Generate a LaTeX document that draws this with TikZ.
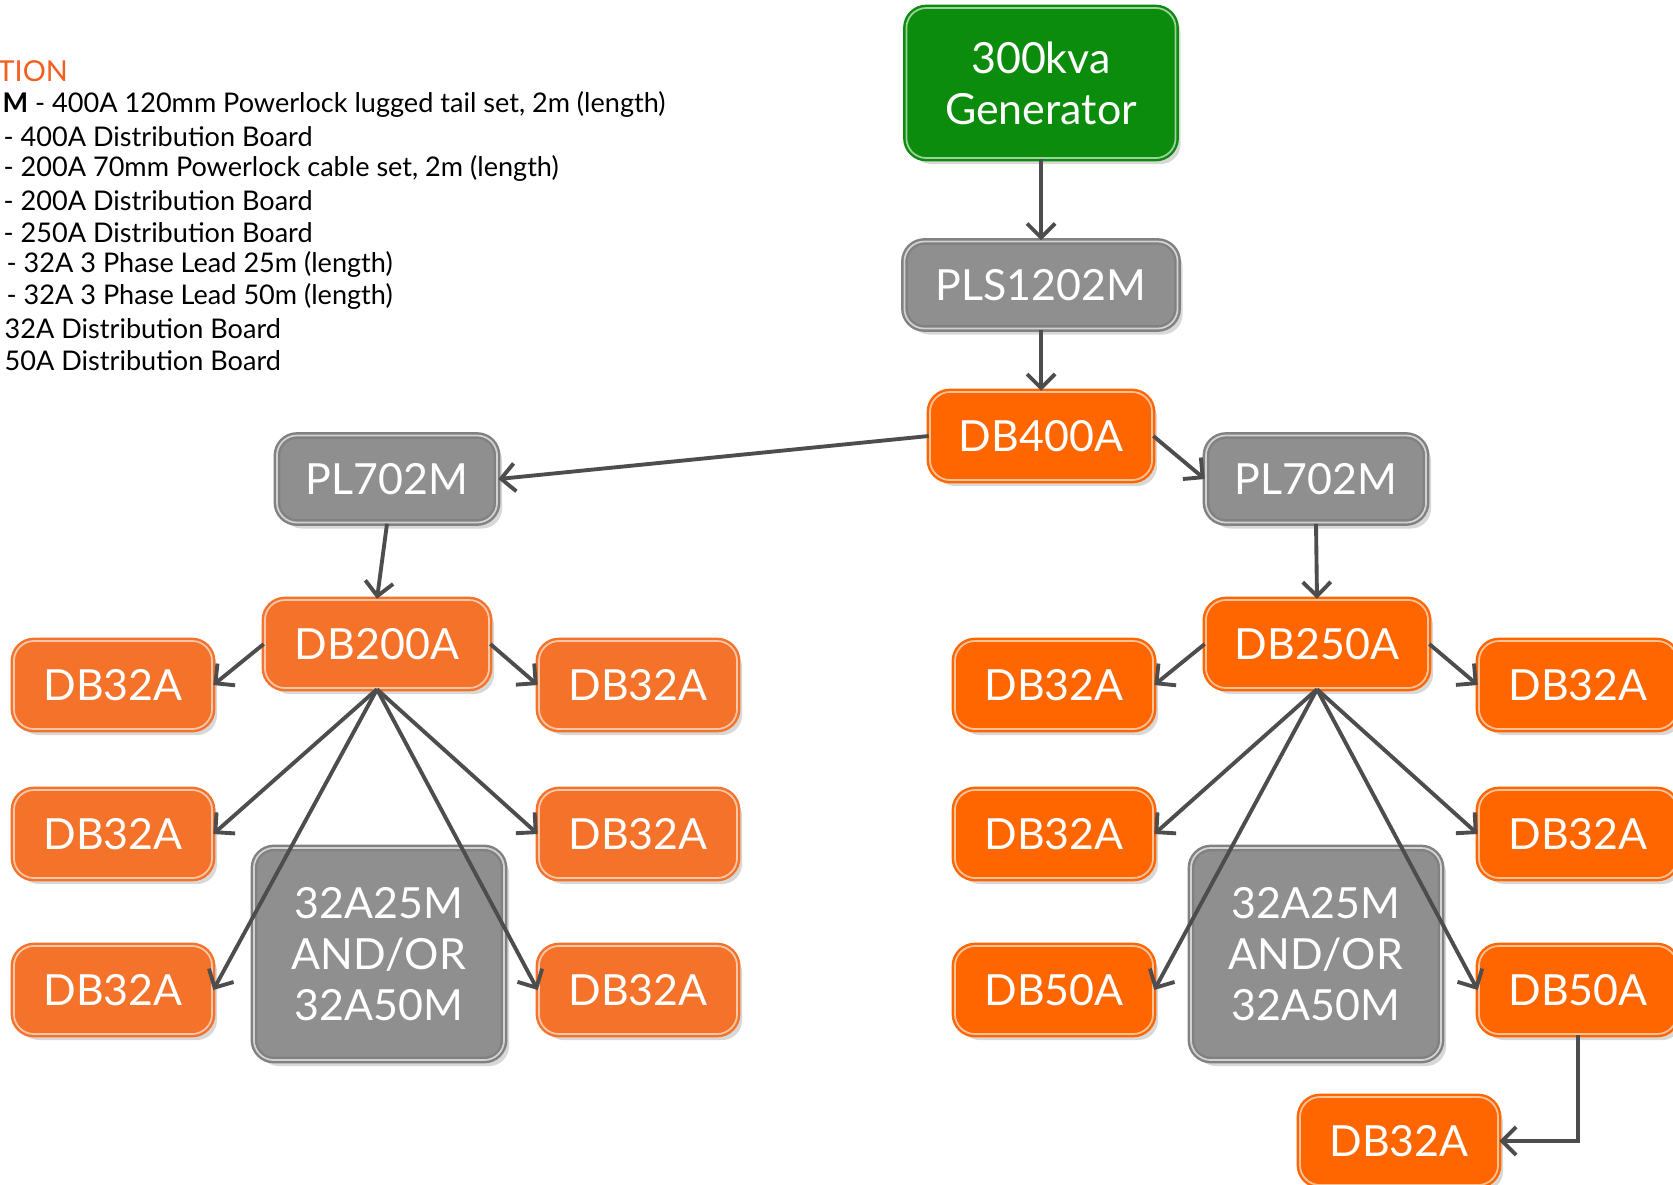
\documentclass[tikz,border=0pt]{standalone}
\usepackage{fontspec}
\setmainfont{Lato}
\usetikzlibrary{arrows.meta,shadows}
\definecolor{genGreen}{RGB}{12,140,12}
\definecolor{boxOrange}{RGB}{255,102,0}
\definecolor{boxOrangeL}{RGB}{245,114,42}
\definecolor{boxGray}{RGB}{143,143,143}
\definecolor{lineGray}{RGB}{77,77,77}
\definecolor{legendOrange}{RGB}{242,95,30}
\tikzset{
  box/.style={rounded corners=0.2cm, line width=0.7pt, double distance=0.5pt,
    text=white, align=center, inner sep=0pt,
    font=\fontsize{12.2}{14.5}\selectfont,
    drop shadow={shadow xshift=0.05cm, shadow yshift=-0.06cm, opacity=0.3}},
  genbox/.style={box, fill=genGreen, draw=genGreen, double=white!60!genGreen,
    minimum width=2.69cm, minimum height=1.5cm},
  graybox/.style={box, fill=boxGray, draw=boxGray!90!black, double=white!60!boxGray,
    minimum width=2.73cm, minimum height=0.87cm},
  leadbox/.style={graybox, minimum width=2.5cm, minimum height=2.12cm},
  dbbox/.style={box, fill=boxOrange, draw=boxOrange, double=white!60!boxOrange,
    minimum width=1.98cm, minimum height=0.88cm},
  dbboxL/.style={dbbox, fill=boxOrangeL, draw=boxOrangeL, double=white!60!boxOrangeL},
  wire/.style={draw=lineGray, line width=1.1pt, -{Straight Barb[length=1.4mm,width=2.8mm]}},
  legend/.style={anchor=west, inner sep=0pt, font=\fontsize{7.7}{9}\selectfont}
}
\begin{document}
\begin{tikzpicture}[x=0.01cm,y=-0.01cm]
\useasboundingbox (0,0) rectangle (1673,1184);
\fill[white] (0,0) rectangle (1673,1184);

\node[legend, text=legendOrange, font=\fontsize{8.2}{9}\selectfont] (lgt) at (-3,71) {TION};
\node[legend] (lg1) at (2,104.6) {\textbf{M} - 400A 120mm Powerlock lugged tail set, 2m (length)};
\node[legend] (lg2) at (3,136.6) {- 400A Distribution Board};
\node[legend] (lg3) at (3,168.6) {- 200A 70mm Powerlock cable set, 2m (length)};
\node[legend] (lg4) at (3,200.6) {- 200A Distribution Board};
\node[legend] (lg5) at (3,232.6) {- 250A Distribution Board};
\node[legend] (lg6) at (6,264.6) {- 32A 3 Phase Lead 25m (length)};
\node[legend] (lg7) at (6,296.6) {- 32A 3 Phase Lead 50m (length)};
\node[legend] (lg8) at (4,328.7) {32A Distribution Board};
\node[legend] (lg9) at (4,360.7) {50A Distribution Board};

\node[genbox] (gen) at (1041,83) {300kva\\Generator};
\node[graybox] (pls) at (1041,285) {PLS1202M};
\node[dbbox, minimum width=2.22cm] (db400) at (1041,436) {DB400A};
\node[graybox, minimum width=2.2cm] (plL) at (387,479) {PL702M};
\node[graybox, minimum width=2.2cm] (plR) at (1316,479) {PL702M};

\node[dbboxL, minimum width=2.24cm] (db200) at (377,644) {DB200A};
\node[leadbox] (leadL) at (379,954) {32A25M\\AND/OR\\32A50M};
\node[dbboxL] (a1) at (113,685) {DB32A};
\node[dbboxL] (a2) at (113,834) {DB32A};
\node[dbboxL] (a3) at (113,990) {DB32A};
\node[dbboxL] (b1) at (638,685) {DB32A};
\node[dbboxL] (b2) at (638,834) {DB32A};
\node[dbboxL] (b3) at (638,990) {DB32A};

\node[dbbox, minimum width=2.22cm] (db250) at (1317,644) {DB250A};
\node[leadbox] (leadR) at (1316,954) {32A25M\\AND/OR\\32A50M};
\node[dbbox] (c1) at (1054,685) {DB32A};
\node[dbbox] (c2) at (1054,834) {DB32A};
\node[dbbox] (c3) at (1054,990) {DB50A};
\node[dbbox] (d1) at (1578,685) {DB32A};
\node[dbbox] (d2) at (1578,834) {DB32A};
\node[dbbox] (d3) at (1578,990) {DB50A};
\node[dbbox] (e1) at (1399,1141) {DB32A};

\draw[wire] (gen.south) -- (pls.north);
\draw[wire] (pls.south) -- (db400.north);
\draw[wire] (db400.west) -- (plL.east);
\draw[wire] (db400.east) -- (plR.west);
\draw[wire] (plL.south) -- (db200.north);
\draw[wire] (plR.south) -- (db250.north);

\draw[wire] (db200.west) -- (a1.east);
\draw[wire] (db200.east) -- (b1.west);
\draw[wire] (db200.south) -- (a2.east);
\draw[wire] (db200.south) -- (a3.east);
\draw[wire] (db200.south) -- (b2.west);
\draw[wire] (db200.south) -- (b3.west);

\draw[wire] (db250.west) -- (c1.east);
\draw[wire] (db250.east) -- (d1.west);
\draw[wire] (db250.south) -- (c2.east);
\draw[wire] (db250.south) -- (c3.east);
\draw[wire] (db250.south) -- (d2.west);
\draw[wire] (db250.south) -- (d3.west);
\draw[wire] (d3.south) |- (e1.east);
\end{tikzpicture}
\end{document}
